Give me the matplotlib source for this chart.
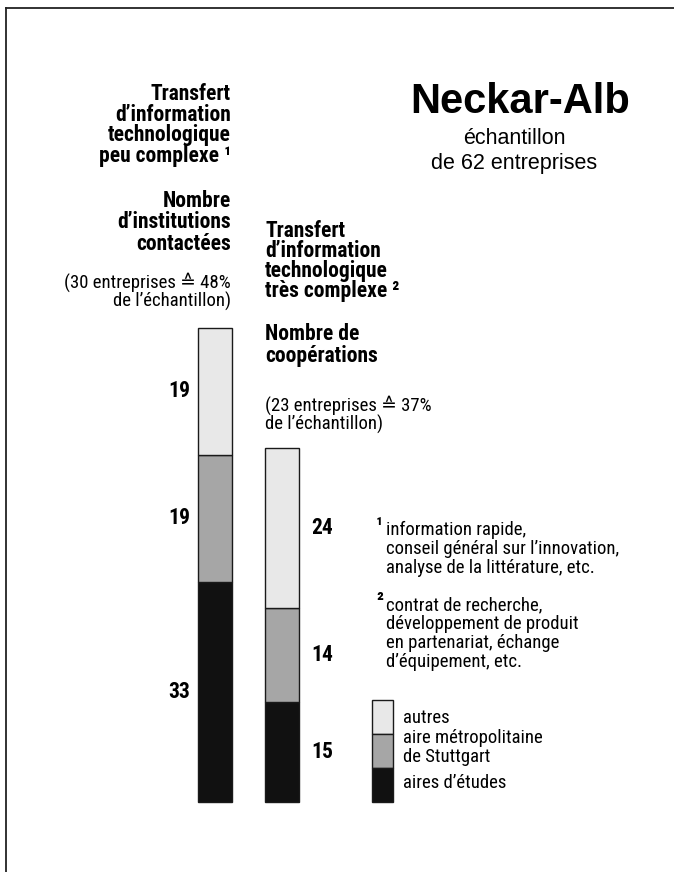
import matplotlib
matplotlib.use("Agg")
import matplotlib.pyplot as plt
from matplotlib.patches import Rectangle

# data: counts per bar, bottom to top (aires d'études, Stuttgart, autres)
categories = ["aires d'études", "aire métropolitaine\nde Stuttgart", "autres"]
peu_complexe = [33, 19, 19]       # nombre d'institutions contactées
tres_complexe = [15, 14, 24]      # nombre de coopérations
colors = ["#111111", "#a6a6a6", "#e8e8e8"]

narrow = ["Roboto Condensed", "Liberation Sans Narrow", "Liberation Sans", "DejaVu Sans"]
wide = ["Liberation Sans", "DejaVu Sans"]

W, H = 674, 872
fig = plt.figure(figsize=(W / 100, H / 100), dpi=100)

# bars axis: x in pixels, y in counts (0 at pixel row 802, 6.68 px per unit)
ppu = 6.68
base = 802
ax = fig.add_axes([0, 0, 1, 1])
ax.set_xlim(0, W)
ax.set_ylim(-(H - base) / ppu, base / ppu)
ax.axis("off")

bars = [(215, peu_complexe, "right", 190), (281.5, tres_complexe, "left", 311)]
for xc, vals, ha, xl in bars:
    bottom = 0
    for v, c in zip(vals, colors):
        ax.bar(xc, v, width=34, bottom=bottom, color=c, edgecolor="#1a1a1a", linewidth=1.0)
        ax.text(xl, bottom + v / 2, str(v), ha=ha, va="center",
                fontsize=15.5, fontweight="bold", family=narrow)
        bottom += v

# overlay axis in pixel coordinates for text and frame
tx = fig.add_axes([0, 0, 1, 1], facecolor="none")
tx.set_xlim(0, W)
tx.set_ylim(H, 0)
tx.axis("off")

# frame (top and left edge)
tx.plot([5.5, W], [8.5, 8.5], color="#222222", lw=1.3)
tx.plot([5.5, 5.5], [8.5, H], color="#222222", lw=1.3)

# title
tx.text(520, 113, "Neckar-Alb", ha="center", va="baseline", fontsize=30,
        fontweight="bold", family=wide)
tx.text(514, 144, "échantillon", ha="center", va="baseline", fontsize=15.5, family=wide)
tx.text(514, 169, "de 62 entreprises", ha="center", va="baseline", fontsize=15.5, family=wide)

def lines(x, ys, texts, ha, size, weight):
    for y, t in zip(ys, texts):
        tx.text(x, y, t, ha=ha, va="baseline", fontsize=size, fontweight=weight, family=narrow)

# left block
lines(231, [100, 121, 141, 162],
      ["Transfert", "d\u2019information", "technologique", "peu complexe \u00b9"],
      "right", 15.5, "bold")
lines(231, [207, 228, 250],
      ["Nombre", "d\u2019institutions", "contactées"], "right", 15.5, "bold")
lines(231, [288, 307],
      ["(30 entreprises \u2259 48%", "de l\u2019échantillon)"], "right", 13.5, "normal")

# right block
lines(265, [237, 257, 277, 297],
      ["Transfert", "d\u2019information", "technologique", "très complexe \u00b2"],
      "left", 15.5, "bold")
lines(265, [340, 362], ["Nombre de", "coopérations"], "left", 15.5, "bold")
lines(265, [411, 430],
      ["(23 entreprises \u2259 37%", "de l\u2019échantillon)"], "left", 13.5, "normal")

# footnotes
tx.text(376, 532, "\u00b9", ha="left", va="baseline", fontsize=15, fontweight="bold", family=narrow)
lines(386, [535, 554, 573],
      ["information rapide,", "conseil général sur l\u2019innovation,",
       "analyse de la littérature, etc."], "left", 13.5, "normal")
tx.text(376, 607, "\u00b2", ha="left", va="baseline", fontsize=15, fontweight="bold", family=narrow)
lines(386, [610, 629, 648, 667],
      ["contrat de recherche,", "développement de produit",
       "en partenariat, échange", "d\u2019équipement, etc."], "left", 13.5, "normal")

# legend key: small stacked swatch
sw_top, sw_h = 700, 34
for i, c in enumerate(reversed(colors)):
    tx.add_patch(Rectangle((372, sw_top + i * sw_h), 21, sw_h, facecolor=c,
                           edgecolor="#1a1a1a", lw=1.0))
lines(403, [723], ["autres"], "left", 13.5, "normal")
lines(403, [743, 762], ["aire métropolitaine", "de Stuttgart"], "left", 13.5, "normal")
lines(403, [788], ["aires d\u2019études"], "left", 13.5, "normal")

fig.savefig("out.png", dpi=100, facecolor="white")
